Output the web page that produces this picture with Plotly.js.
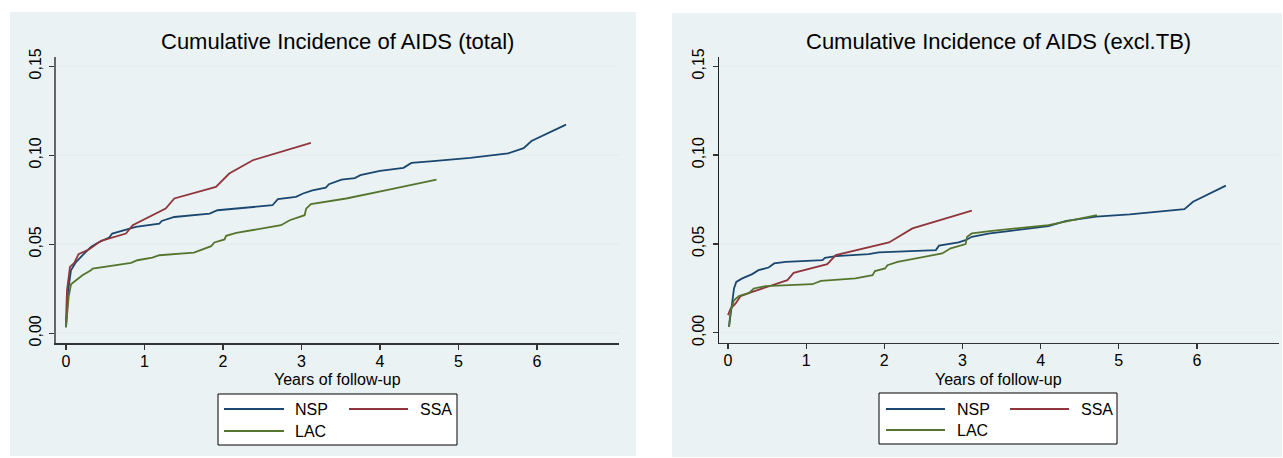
<!DOCTYPE html>
<html>
<head>
<meta charset="utf-8">
<script src="https://cdn.plot.ly/plotly-3.0.1.min.js"></script>
<style>html,body{margin:0;padding:0;background:#fff;}#chart{width:1283px;height:458px;}</style>
</head>
<body>
<div id="chart"></div>
<script>
// ---------- DATA ----------
const seriesNames = ['NSP', 'SSA', 'LAC'];
const seriesColors = ['#1A476F', '#90353B', '#55752F'];
const panelTitles = ['Cumulative Incidence of AIDS (total)', 'Cumulative Incidence of AIDS (excl.TB)'];
const xAxisTitle = 'Years of follow-up';
const xTickVals = [0, 1, 2, 3, 4, 5, 6];
const xTickText = ['0', '1', '2', '3', '4', '5', '6'];
const yTickVals = [0, 0.05, 0.10, 0.15];
const yTickText = ['0,00', '0,05', '0,10', '0,15'];

// Panel 1: total
const totNSP_x = [0, 0.034, 0.064, 0.127, 0.21, 0.318, 0.40, 0.55, 0.59, 0.786, 0.89, 1.19, 1.22, 1.38, 1.83, 1.93, 2.19, 2.63, 2.70, 2.93, 3.02, 3.14, 3.31, 3.35, 3.51, 3.68, 3.75, 4.0, 4.30, 4.40, 4.64, 5.15, 5.63, 5.83, 5.93, 6.37];
const totNSP_y = [0.0035, 0.026, 0.0354, 0.040, 0.0438, 0.0485, 0.0507, 0.0537, 0.056, 0.0584, 0.0597, 0.0616, 0.0631, 0.0653, 0.0672, 0.0691, 0.070, 0.0719, 0.0753, 0.0766, 0.0785, 0.0803, 0.0818, 0.0837, 0.0863, 0.0872, 0.0888, 0.0912, 0.0929, 0.0957, 0.0966, 0.0985, 0.101, 0.104, 0.108, 0.1172];
const totSSA_x = [0, 0.013, 0.051, 0.106, 0.16, 0.297, 0.446, 0.764, 0.85, 1.27, 1.38, 1.91, 2.08, 2.38, 3.12];
const totSSA_y = [0.0064, 0.024, 0.0373, 0.0395, 0.0444, 0.0472, 0.0519, 0.056, 0.0607, 0.070, 0.0757, 0.0822, 0.0897, 0.0972, 0.1069];
const totLAC_x = [0, 0.034, 0.064, 0.127, 0.21, 0.318, 0.34, 0.83, 0.91, 1.10, 1.19, 1.63, 1.76, 1.85, 1.89, 2.02, 2.04, 2.17, 2.74, 2.85, 3.04, 3.06, 3.12, 3.57, 4.1, 4.72];
const totLAC_y = [0.0032, 0.0204, 0.0275, 0.0298, 0.0326, 0.0354, 0.0363, 0.0395, 0.041, 0.0425, 0.0438, 0.0453, 0.0472, 0.0489, 0.051, 0.0527, 0.0547, 0.0564, 0.0607, 0.0635, 0.0663, 0.070, 0.0725, 0.0757, 0.0805, 0.0863];

// Panel 2: excl. TB
const exNSP_x = [0.013, 0.047, 0.077, 0.106, 0.183, 0.31, 0.39, 0.52, 0.59, 0.74, 1.21, 1.24, 1.38, 1.80, 1.93, 2.66, 2.70, 2.95, 3.04, 3.12, 3.35, 3.59, 3.73, 4.10, 4.33, 4.71, 5.14, 5.84, 5.95, 6.37];
const exNSP_y = [0.0033, 0.0165, 0.0249, 0.0286, 0.0306, 0.033, 0.0352, 0.0367, 0.039, 0.0399, 0.0409, 0.0422, 0.0431, 0.0443, 0.0452, 0.0465, 0.049, 0.0508, 0.0521, 0.054, 0.0559, 0.0572, 0.058, 0.060, 0.063, 0.0653, 0.0666, 0.0696, 0.0737, 0.0828];
const exSSA_x = [0.0, 0.034, 0.098, 0.16, 0.31, 0.76, 0.84, 1.27, 1.38, 2.06, 2.36, 3.12];
const exSSA_y = [0.0099, 0.0136, 0.0165, 0.0206, 0.023, 0.0296, 0.0337, 0.0386, 0.0437, 0.0508, 0.0587, 0.0687];
const exLAC_x = [0.013, 0.034, 0.077, 0.14, 0.27, 0.33, 0.48, 1.08, 1.19, 1.63, 1.85, 1.88, 2.01, 2.04, 2.17, 2.74, 2.85, 3.04, 3.06, 3.12, 3.35, 3.59, 4.10, 4.72];
const exLAC_y = [0.0033, 0.0127, 0.0183, 0.0206, 0.0224, 0.0249, 0.0262, 0.0273, 0.0292, 0.0306, 0.0324, 0.0347, 0.0362, 0.038, 0.0399, 0.0446, 0.0475, 0.0499, 0.054, 0.0559, 0.0572, 0.0582, 0.0606, 0.0662];

// ---------- LAYOUT ----------
const W = 1283, H = 458;
const px = v => v / W;
const py = v => 1 - v / H;
const FONT = 'Arial, "Liberation Sans", sans-serif';

const panelData = [
  [[totNSP_x, totNSP_y], [totSSA_x, totSSA_y], [totLAC_x, totLAC_y]],
  [[exNSP_x, exNSP_y], [exSSA_x, exSSA_y], [exLAC_x, exLAC_y]]
];

const traces = [];
panelData.forEach((panel, p) => {
  panel.forEach((s, i) => {
    traces.push({
      type: 'scatter', mode: 'lines',
      x: s[0], y: s[1], name: seriesNames[i],
      xaxis: p === 0 ? 'x' : 'x2', yaxis: p === 0 ? 'y' : 'y2',
      line: {color: seriesColors[i], width: 1.8},
      showlegend: false, hoverinfo: 'x+y'
    });
  });
});

// panel geometry (pixels)
const panels = [
  {bg: [10, 12, 636, 456], plot: [56, 57, 619, 343], xr: [-0.127, 7.045], yline: '#666', ylw: 2,
   legend: {box: [218, 394, 457, 445], rows: [409, 431], cols: [[224, 284, 293], [349, 408, 418]]}},
  {bg: [672, 13, 1282, 457], plot: [719, 57, 1279, 342.5], xr: [-0.115, 7.05], yline: '#222', ylw: 1.3,
   legend: {box: [879, 393, 1117, 444], rows: [409, 430], cols: [[886, 945, 955], [1010, 1069, 1079]]}}
];

const shapes = [];
const annotations = [];
const layout = {
  width: W, height: H,
  margin: {l: 0, r: 0, t: 0, b: 0},
  paper_bgcolor: '#ffffff', plot_bgcolor: '#ffffff',
  font: {family: FONT, size: 16, color: '#000'},
  showlegend: false,
  shapes: shapes, annotations: annotations
};

panels.forEach((P, k) => {
  const sfx = k === 0 ? '' : '2';
  shapes.push({type: 'rect', xref: 'paper', yref: 'paper', layer: 'below',
    x0: px(P.bg[0]), x1: px(P.bg[2]), y0: py(P.bg[3]), y1: py(P.bg[1]),
    fillcolor: '#EAF2F3', line: {width: 0}});
  const common = {showgrid: false, zeroline: false, ticks: 'outside', ticklen: 5, tickwidth: 1.2,
    showline: true, tickfont: {family: FONT, size: 16, color: '#000'}};
  layout['xaxis' + sfx] = Object.assign({}, common, {
    domain: [px(P.plot[0]), px(P.plot[2])], range: P.xr,
    tickvals: xTickVals, ticktext: xTickText, anchor: 'y' + sfx,
    linecolor: '#333', linewidth: 1.5, tickcolor: '#333', ticklabelstandoff: -2
  });
  layout['yaxis' + sfx] = Object.assign({}, common, {
    domain: [py(P.plot[3]), py(P.plot[1])], range: [-0.0055, 0.1552],
    tickvals: yTickVals, ticktext: yTickText, tickangle: -90, anchor: 'x' + sfx,
    showgrid: true, gridcolor: '#E6EEF0', gridwidth: 1.5,
    linecolor: P.yline, linewidth: P.ylw, tickcolor: '#333', ticklabelstandoff: 2
  });
  // title
  const cx = (P.plot[0] + P.plot[2]) / 2;
  annotations.push({xref: 'paper', yref: 'paper', x: px(cx), y: py(42), xanchor: 'center', yanchor: 'middle',
    text: panelTitles[k], showarrow: false, font: {family: FONT, size: 22, color: '#000'}});
  annotations.push({xref: 'paper', yref: 'paper', x: px(cx), y: py(379), xanchor: 'center', yanchor: 'middle',
    text: xAxisTitle, showarrow: false, font: {family: FONT, size: 16, color: '#000'}});
  // legend (drawn)
  const L = P.legend;
  shapes.push({type: 'rect', xref: 'paper', yref: 'paper',
    x0: px(L.box[0]), x1: px(L.box[2]), y0: py(L.box[3]), y1: py(L.box[1]),
    fillcolor: '#ffffff', line: {color: '#000', width: 1}});
  const slots = [[0, 0], [0, 1], [1, 0]]; // NSP, SSA (row 1), LAC (row 2)
  seriesNames.forEach((nm, i) => {
    const r = L.rows[slots[i][0]], c = L.cols[slots[i][1]];
    shapes.push({type: 'line', xref: 'paper', yref: 'paper',
      x0: px(c[0]), x1: px(c[1]), y0: py(r), y1: py(r),
      line: {color: seriesColors[i], width: 1.8}});
    annotations.push({xref: 'paper', yref: 'paper', x: px(c[2]), y: py(r + 0.5), xanchor: 'left', yanchor: 'middle',
      text: nm, showarrow: false, font: {family: FONT, size: 16, color: '#000'}});
  });
});

Plotly.newPlot('chart', traces, layout, {displayModeBar: false, staticPlot: true});
</script>
</body>
</html>
